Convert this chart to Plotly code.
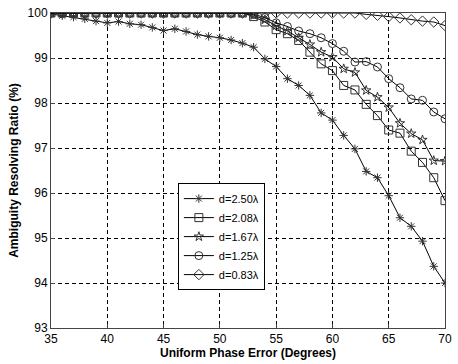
import plotly.graph_objects as go

x_deg = list(range(35, 71))

d250 = [99.98, 99.94, 99.91, 99.87, 99.82, 99.78, 99.81, 99.76, 99.74, 99.68,
        99.61, 99.65, 99.59, 99.52, 99.48, 99.45, 99.40, 99.33, 99.24, 98.98,
        98.81, 98.54, 98.39, 98.17, 97.78, 97.62, 97.28, 96.98, 96.48, 96.34,
        95.94, 95.45, 95.26, 94.93, 94.37, 94.00]
d208 = [100.0] * 18 + [99.92, 99.80, 99.63, 99.54, 99.39, 99.13, 98.87, 98.72,
                       98.39, 98.29, 97.97, 97.72, 97.40, 97.33, 96.93, 96.68,
                       96.34, 95.83]
d167 = [100.0] * 18 + [99.95, 99.85, 99.72, 99.60, 99.45, 99.30, 99.13, 99.02,
                       98.76, 98.68, 98.28, 98.13, 97.90, 97.55, 97.32, 97.18,
                       96.72, 96.71]
d125 = [100.0] * 18 + [99.97, 99.90, 99.78, 99.70, 99.60, 99.54, 99.45, 99.32,
                       99.15, 98.91, 98.92, 98.80, 98.54, 98.34, 98.09, 98.06,
                       97.80, 97.65]
d083 = [100.0] * 28 + [99.97, 99.95, 99.92, 99.89, 99.85, 99.82, 99.80, 99.72]

series_names = ["d=2.50λ", "d=2.08λ", "d=1.67λ", "d=1.25λ", "d=0.83λ"]
series_vals = [d250, d208, d167, d125, d083]
symbols = ["asterisk-open", "square-open", "star-open", "circle-open", "diamond-open"]
sizes = [7, 8, 7, 8, 8]

fig = go.Figure()
for name, vals, sym, sz in zip(series_names, series_vals, symbols, sizes):
    fig.add_trace(go.Scatter(
        x=x_deg, y=vals, name=name, mode="lines+markers",
        line=dict(color="black", width=1),
        marker=dict(symbol=sym, size=sz, color="#333",
                    line=dict(color="#333", width=1)),
    ))

font_family = "Liberation Sans, Arial, sans-serif"
fig.update_layout(
    width=458, height=364,
    margin=dict(l=51, r=6, t=12, b=36),
    paper_bgcolor="white", plot_bgcolor="white",
    font=dict(family=font_family, size=12, color="black"),
    showlegend=True,
    legend=dict(x=0.322, y=0.46, xanchor="left", yanchor="top",
                bgcolor="white", bordercolor="black", borderwidth=1,
                font=dict(size=11, family=font_family),
                tracegroupgap=0, itemwidth=30),
)
fig.update_xaxes(
    range=[35, 70], tickvals=list(range(35, 71, 5)),
    ticklabeloverflow="allow",
    showgrid=True, gridcolor="black", gridwidth=1, griddash="4px,3px",
    showline=True, linecolor="#444", linewidth=1, mirror=True,
    ticks="inside", ticklen=4, tickcolor="#444", zeroline=False,
    title=dict(text="<b>Uniform Phase Error (Degrees)</b>", standoff=2,
               font=dict(size=12)),
)
fig.update_yaxes(
    range=[93, 100], tickvals=list(range(93, 101)),
    ticklabeloverflow="allow",
    showgrid=True, gridcolor="black", gridwidth=1, griddash="4px,3px",
    showline=True, linecolor="#444", linewidth=1, mirror=True,
    ticks="inside", ticklen=4, tickcolor="#444", zeroline=False,
    title=dict(text="<b>Ambiguity Resolving Ratio (%)</b>", standoff=6,
               font=dict(size=12)),
)

fig.write_html("out.html")
